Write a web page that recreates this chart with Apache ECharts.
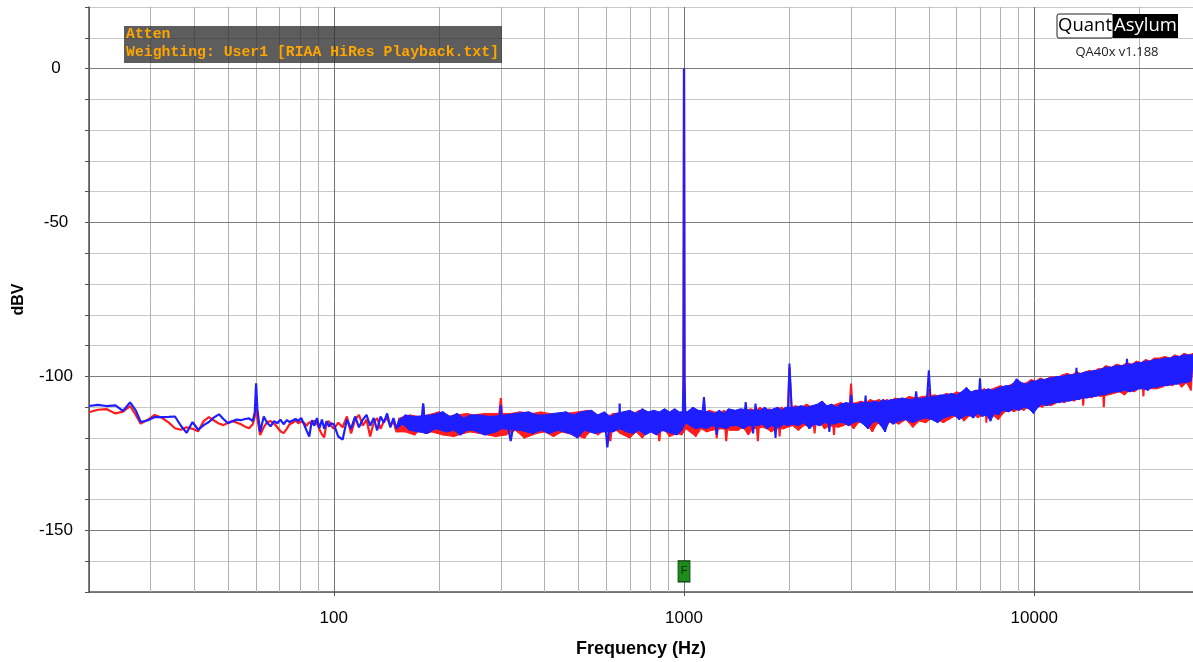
<!DOCTYPE html>
<html><head><meta charset="utf-8">
<script src="https://cdn.jsdelivr.net/npm/echarts/dist/echarts.min.js"></script>
<style>html,body{margin:0;padding:0;background:#fff}#c{width:1193px;height:662px}</style>
</head><body><div id="c"></div>
<script>
// ---------- data ----------
const lowFreq = [20.0,21.2,22.4,23.8,25.0,26.2,27.2,28.1,29.5,30.8,32.3,33.8,35.2,36.6,38.0,39.5,41.0,42.5,44.0,45.5,47.0,48.4,49.9,51.4,52.9,54.3,55.8,57.3,58.7,59.5,60.0,60.5,61.6,63.1,64.5,66.0,67.5,69.0,70.4,71.9,73.4,74.8,76.3,77.8,79.2,80.7,82.2,83.6,85.1,86.6,88.0,89.5,91.0,92.5,93.9,95.4,96.9,98.3];
const lowBlue = [-109.6,-109.2,-109.6,-109.4,-111.2,-108.4,-111.0,-114.8,-114.2,-113.2,
 -113.2,-113.1,-113.0,-116.0,-118.3,-114.8,-117.3,-115.8,-114.8,-113.3,
 -112.3,-113.8,-115.2,-114.5,-114.0,-114.2,-113.8,-113.6,-114.5,-111.5,
 -102.2,-110.5,-118.0,-113.0,-115.0,-116.2,-114.5,-115.2,-114.0,-115.5,
 -114.2,-114.8,-114.3,-113.8,-114.5,-113.5,-115.5,-117.5,-119.5,-114.2,
 -116.0,-113.5,-116.8,-114.0,-117.0,-114.5,-116.3,-115.2];
const lowRed = [-111.6,-110.8,-110.6,-112.0,-111.4,-109.6,-112.5,-115.3,-114.0,-112.5,
 -113.4,-115.0,-116.8,-117.3,-116.5,-117.0,-117.8,-114.5,-113.2,-114.3,
 -115.3,-115.8,-115.0,-114.5,-115.0,-115.5,-116.3,-116.8,-115.5,-113.0,
 -108.9,-113.5,-119.0,-116.5,-114.8,-114.5,-115.3,-116.5,-117.8,-118.4,
 -117.0,-115.5,-115.0,-114.3,-115.2,-114.6,-115.0,-116.0,-114.8,-115.5,
 -114.3,-115.3,-117.2,-118.8,-119.8,-115.0,-114.5,-116.0];

const midFreq = [100,103,106,109,112,115,118,121,124,127,130,133,136,139,142,145,148,151,154,157,
 160,165,170,175,178,180,182,185,190,195,200,205,210,215,220,225,230,235,240,245,
 250,260,270,280,290,297,300,303,310,320,330,340,350,360,370,380,390,
 400,412,424,436,448,460,472,484,496,508,520,532,544,556,568,580,592,604,616,628,
 640,653,655,657,670,685,700,715,730,745,760,775,790,805,820,835,850,865,880,895,910,925,940,955,970,985,993,997,1000,1003,1007,1012];
const midBlue = [-115.5,-119.5,-120.5,-114,-117,-113,-116.5,-114,-112.5,-116,-113.5,-117.5,-113,-115,-112,-116.5,-113.5,-117,-114,-115.5,
 -112.5,-117.5,-113,-118,-115,-108.7,-116,-118.5,-112.5,-117,-113.5,-111.5,-118,-113,-117.5,-112,-119,-113.5,-117.5,-112.5,
 -117.5,-112.5,-119,-113,-118,-113.5,-109.4,-117,-112.5,-121,-112,-117.5,-113.5,-111.5,-118.5,-112.5,-117.5,
 -112.5,-118.5,-112,-117.5,-113,-111.5,-118.5,-112.5,-120,-111.5,-117.5,-113,-111,-118.5,-112.5,-118,-111.5,-123,-113,-118,
 -112,-117,-108.8,-117,-111.5,-118,-111,-118.5,-112,-117.5,-110.5,-119,-111.5,-118,-111,-119,-111.5,-117.5,-110.5,-118,-111.5,-118.5,-110.5,-119,-111.5,-117.5,-111,-101.5,0,-101.5,-110,-115];
const midRed = [-117,-115,-116.5,-113,-118.5,-114,-112.5,-116,-114,-119.5,-115,-113.5,-117,-114.5,-113.5,-116,-114.5,-118,-113.5,-116,
 -118,-112.5,-119,-113,-117,-109.5,-118.5,-112.5,-118,-113.5,-111.5,-119,-113,-117.5,-119.5,-112.5,-117,-118.5,-112,-118,
 -112.5,-118.5,-112,-118,-119.5,-112,-107,-116.5,-119,-112,-117.5,-111.5,-120,-113.5,-112,-118.5,-111.5,
 -118,-112,-119.5,-112.5,-118,-112,-117,-119,-111.5,-117,-120,-111,-117.5,-113,-119,-112,-117.5,-113,-121,-112,
 -117.5,-112,-113,-118.5,-113,-111.5,-120,-112,-118,-111,-120,-112.5,-117.5,-111.5,-118.5,-112.5,-121,-111.5,-117.5,-112,-119.5,-111.5,-117,-118.5,-112,-119,-113,-101,0,-101,-112,-117];

const denseFreq = [1020,1040,1060,1080,1100,1120,1140,1160,1180,1200,1220,1240,1260,1280,1300,1320,1340,1360,
 1400,1425,1450,1475,1500,1525,1550,1575,1600,1625,1650,1675,1700,1725,1750,1775,1800,1825,1850,1875,1900,1925,1950,1975,
 2000,2040,2080,2120,2160,2200,2240,2280,2320,2360,2400,2440,2480,2520,2560,2600,2640,2680,2720,2760,
 2800,2850,2900,2950,3000,3050,3100,3150,3200,3250,3300,3350,3400,3450,3500,3550,3600,3650,3700,3750,3800,3850,3900,3950,
 4000,4100,4200,4300,4400,4500,4600,4700,4800,4900,5000,5100,5200,5300,5400,5500,
 5600,5700,5800,5900,6000,6100,6200,6300,6400,6500,6600,6700,6800,6900,7000,7100,7200,7300,7400,7500,7600,7700,7800,7900,
 8000,8150,8300,8450,8600,8750,8900,9050,9200,9350,9500,9650,9800,9950,10100,10250,10400,10550,10700,10850,11000,11150,
 11200,11400,11600,11800,12000,12200,12400,12600,12800,13000,13200,13400,13600,13800,14000,14200,14400,14600,14800,15000,15200,15400,15600,15800,
 16000,16300,16600,16900,17200,17500,17800,18100,18400,18700,19000,19300,19600,19900,20200,20500,20800,21100,21400,21700,22000,
 22400,22800,23200,23600,24000,24400,24800,25200,25600,26000,26400,26800,27200,27600,28000,28400];
const denseBlue = [-111.5,-116,-110,-117,-111,-116.5,-106.7,-117,-111.5,-116,-112,-119,-111,-116.5,-112,-117,-110.5,-116,
 -111,-116,-110.5,-117,-108.3,-116,-111,-118.5,-108.8,-116,-111,-115.5,-110,-117,-111,-116,-110.5,-120,-110,-116.5,-111,-115.5,-110,-116,
 -95.8,-115.5,-110,-116,-109.5,-115,-110,-117,-109.5,-115.5,-109,-116,-108,-115,-109.5,-118,-109,-115.5,-110,-115,
 -109,-115,-108.5,-116,-106,-115,-109,-114.5,-108.5,-115.5,-106.2,-117,-108.5,-115,-108,-114.5,-108.5,-116,-107.5,-118,-108,-114.5,-107.5,-115.5,
 -107.5,-114.5,-107,-114,-107.5,-115,-104.8,-114,-107,-113.5,-98,-114,-106.5,-115,-106,-113.5,
 -106,-113,-105.5,-112.5,-106,-114,-105,-113,-103.6,-112.5,-105,-113.5,-104.5,-112,-100.6,-113,-104.5,-112.5,-104,-114.5,-104.5,-112,-104,-112.5,
 -103.5,-111,-103,-111.5,-103,-110.5,-100.8,-111,-102,-110,-102.5,-110.5,-101.5,-112,-101.5,-110,-101,-109,-101,-109.5,-100.5,-109,
 -100.5,-108.5,-100,-108.5,-100,-108,-99.5,-108,-99.5,-107.5,-97.2,-107.5,-99,-107,-98.5,-107,-98.5,-106.5,-98,-106.5,-98,-106,-97.5,-106,
 -97,-105.5,-97,-105,-96.5,-105,-96.5,-104.5,-94.3,-105,-96,-104.5,-95.5,-104,-95.5,-104,-95,-104.5,-95,-103.5,-94.5,
 -103.5,-94.5,-103,-94,-103,-94,-102.5,-93.5,-102.5,-93.5,-102,-93,-102,-93,-101.5,-93];
const denseRed = [-112,-118,-111.5,-119.5,-112,-117,-112,-118,-111,-117.5,-111.5,-120,-112,-117,-111,-121,-112,-117.5,
 -111.5,-117.5,-111,-116.5,-111,-119,-110.5,-117,-111,-121,-110,-116.5,-111.5,-117,-110.5,-118,-111,-117,-110.5,-119.5,-110,-117,-111,-116.5,
 -97,-116,-109.5,-117.5,-110,-116,-109,-115.5,-110,-118.5,-109.5,-115,-109,-117,-110,-116,-109.5,-119,-109,-116.5,
 -108.5,-116,-109,-115,-102.3,-117,-108.5,-115,-108,-114.5,-108.5,-116,-107.5,-118,-108,-115.5,-107.5,-115,-108,-117,-107.5,-115,-108,-114.5,
 -107,-115.5,-107.5,-114,-106.5,-116.5,-107,-114.5,-106.5,-115,-104,-113.5,-106,-114,-106.5,-115,
 -105.5,-114,-106,-113,-105,-112.5,-105.5,-114.5,-104.5,-113,-105.5,-112,-104.5,-113.5,-104.5,-112.5,-104,-115,-104.5,-112,-104,-113,-103.5,-114,
 -103,-112,-103.5,-110.5,-102.5,-111.5,-102,-110.5,-102.5,-111,-102,-109.5,-101,-110.5,-101.5,-109.5,-100.5,-110,-101,-109,-100.5,-109.5,
 -100,-109,-100.5,-108,-99.5,-108.5,-99,-107.5,-99.5,-108,-98.5,-107,-99,-109.5,-98.5,-106.5,-98,-107,-98.5,-106,-97.5,-106.5,-97.5,-110,
 -96.5,-106,-97,-105.5,-96,-105,-96.5,-106,-95.5,-104.5,-96,-105,-95,-104,-95.5,-106.5,-94.5,-104,-95,-104,-94,
 -104,-94,-103.5,-93.5,-102.5,-94,-103,-93,-102,-93.5,-103.5,-92.5,-102,-93,-104.5,-92.5];

const xTickLabels = [100, 1000, 10000];
const minorFreqTicks = [30,40,50,60,70,80,90,200,300,400,500,600,700,800,900,2000,3000,4000,5000,6000,7000,8000,9000,20000];
const majorDbTicks = [-150,-100,-50,0];
const markerFreq = 1000, markerDb = -163.3;
const bandStartFreq = 150;   // from here on the trace is drawn as a dense noise band

// ---------- build ----------
function pts(f, v) { const n = Math.min(f.length, v.length); const o = []; for (let i = 0; i < n; i++) o.push([f[i], v[i]]); return o; }
const lmF = lowFreq.concat(midFreq);
const redLM = pts(lmF, lowRed.concat(midRed));
const blueLM = pts(lmF, lowBlue.concat(midBlue));
const lastF = midFreq[midFreq.length - 1];
const redD = pts([lastF].concat(denseFreq), [midRed[midRed.length - 1]].concat(denseRed));
const blueD = pts([lastF].concat(denseFreq), [midBlue[midBlue.length - 1]].concat(denseBlue));

// envelope polygon of the noise: local maxima (top) and local minima (bottom), isolated spikes/dips left out
function envelope(p) {
  let top = [], bot = [];
  for (let i = 0; i < p.length; i++) {
    const prev = i > 0 ? p[i - 1][1] : null, next = i < p.length - 1 ? p[i + 1][1] : null;
    const v = p[i][1];
    if ((prev === null || v >= prev) && (next === null || v >= next)) top.push(p[i]);
    if ((prev === null || v <= prev) && (next === null || v <= next)) bot.push(p[i]);
  }
  top = top.filter((q, j) => !(j > 0 && j < top.length - 1 && q[1] > Math.max(top[j - 1][1], top[j + 1][1]) + 1.5));
  bot = bot.filter((q, j) => !(j > 0 && j < bot.length - 1 && q[1] < Math.min(bot[j - 1][1], bot[j + 1][1]) - 2));
  return top.concat(bot.reverse());
}
const redBand = envelope(redLM.filter(p => p[0] >= bandStartFreq).concat(redD.slice(1)));
const blueBand = envelope(blueLM.filter(p => p[0] >= bandStartFreq).concat(blueD.slice(1)));

const RED = '#ff1c1c', BLUE = '#1e1eff';
const FONT = '"Liberation Sans", Arial, sans-serif';
function lineSeries(data, color, w, z) {
  return { type: 'line', data: data, showSymbol: false, symbol: 'none', silent: true, animation: false,
    lineStyle: { color: color, width: w }, z: z, clip: true };
}
function bandSeries(poly, color, z) {
  return { type: 'custom', silent: true, animation: false, z: z, clip: true, data: [[1000, -110]],
    renderItem: (params, api) => ({ type: 'polygon', shape: { points: poly.map(p => api.coord(p)) },
      style: { fill: color, stroke: color, lineWidth: 1 } }) };
}

const gridMarks = minorFreqTicks.map(f => ({ xAxis: f, lineStyle: { color: '#b2b2b2', type: 'solid', width: 1 } }))
  .concat(majorDbTicks.map(v => ({ yAxis: v, lineStyle: { color: '#7c7c7c', type: 'solid', width: 1.2 } })));
const tickMarks = minorFreqTicks.map(f => [{ xAxis: f, yAxis: -170 }, { xAxis: f, yAxis: -171.3 }]);

const chart = echarts.init(document.getElementById('c'), null, { renderer: 'canvas' });
chart.setOption({
  animation: false,
  backgroundColor: '#ffffff',
  grid: { left: 89, right: 0, top: 7, bottom: 70, containLabel: false, outerBoundsMode: 'none' },
  xAxis: {
    type: 'log', logBase: 10, min: 20, max: 28400,
    axisLine: { show: true, onZero: false, lineStyle: { color: '#555', width: 1.5 } },
    axisTick: { show: true, length: 4, lineStyle: { color: '#555' } },
    axisLabel: { color: '#000', fontSize: 17, fontFamily: FONT, margin: 18, showMinLabel: false, showMaxLabel: false,
      formatter: v => { const r = Math.round(v); return xTickLabels.indexOf(r) >= 0 ? String(r) : ''; } },
    splitLine: { show: true, lineStyle: { color: '#737373', width: 1 } },
    name: 'Frequency (Hz)', nameLocation: 'middle', nameGap: 48,
    nameTextStyle: { color: '#000', fontSize: 18, fontWeight: 'bold', fontFamily: FONT }
  },
  yAxis: {
    type: 'value', min: -170, max: 20, interval: 10,
    axisLine: { show: true, onZero: false, lineStyle: { color: '#555', width: 1.5 } },
    axisTick: { show: true, length: 4, lineStyle: { color: '#555' } },
    axisLabel: { color: '#000', fontSize: 17, fontFamily: FONT, align: 'center', margin: 33,
      formatter: v => (v % 50 === 0 ? String(v) : '') },
    splitLine: { show: true, lineStyle: { color: '#c8c8c8', width: 1 } },
    name: 'dBV', nameLocation: 'middle', nameGap: 62, nameRotate: 90,
    nameTextStyle: { color: '#000', fontSize: 16, fontWeight: 'bold', fontFamily: FONT }
  },
  series: [
    { type: 'line', data: [[20, -170]], symbol: 'none', showSymbol: false, silent: true, lineStyle: { width: 0 }, z: 1, clip: false,
      markLine: { silent: true, symbol: ['none', 'none'], z: 1, animation: false, label: { show: false },
        emphasis: { disabled: true }, lineStyle: { type: 'solid', width: 1 }, data: gridMarks },
      markPoint: { silent: true, z: 9, animation: false, symbol: 'rect', symbolSize: [12, 21],
        itemStyle: { color: '#1d8c1d', borderColor: '#0a3a0a', borderWidth: 1 },
        label: { show: true, position: 'inside', formatter: 'F', color: '#0a300a', fontSize: 11, fontFamily: FONT },
        data: [{ coord: [markerFreq, markerDb] }] } },
    { type: 'line', data: [[20, -170]], symbol: 'none', showSymbol: false, silent: true, lineStyle: { width: 0 }, z: 1, clip: false,
      markLine: { silent: true, symbol: ['none', 'none'], z: 1, animation: false, label: { show: false },
        emphasis: { disabled: true }, lineStyle: { type: 'solid', width: 1, color: '#555' }, data: tickMarks } },
    bandSeries(redBand, RED, 2),
    lineSeries(redLM, RED, 2.2, 2),
    lineSeries(redD, RED, 2, 2),
    bandSeries(blueBand, BLUE, 3),
    lineSeries(blueLM, BLUE, 2.2, 3),
    lineSeries(blueD, BLUE, 2, 3)
  ],
  graphic: [
    { type: 'rect', shape: { x: 124, y: 26, width: 378, height: 37 }, style: { fill: 'rgba(48,48,48,0.78)' }, z: 100, silent: true },
    { type: 'text', x: 126, y: 34, style: { text: 'Atten', fill: '#ffa500', font: 'bold 14.8px "Liberation Mono", monospace', verticalAlign: 'middle' }, z: 101, silent: true },
    { type: 'text', x: 126, y: 52, style: { text: 'Weighting: User1 [RIAA HiRes Playback.txt]', fill: '#ffa500', font: 'bold 14.8px "Liberation Mono", monospace', verticalAlign: 'middle' }, z: 101, silent: true },
    { type: 'rect', shape: { x: 1057, y: 14, width: 56, height: 24, r: 2 }, style: { fill: '#fff', stroke: '#222', lineWidth: 1 }, z: 100, silent: true },
    { type: 'rect', shape: { x: 1113, y: 14, width: 65, height: 24 }, style: { fill: '#000' }, z: 100, silent: true },
    { type: 'text', x: 1085, y: 26, style: { text: 'Quant', fill: '#000', font: '18.5px "Open Sans", sans-serif', align: 'center', verticalAlign: 'middle' }, z: 101, silent: true },
    { type: 'text', x: 1145.5, y: 26, style: { text: 'Asylum', fill: '#fff', font: '18.5px "Open Sans", sans-serif', align: 'center', verticalAlign: 'middle' }, z: 101, silent: true },
    { type: 'text', x: 1117, y: 52, style: { text: 'QA40x v1.188', fill: '#222', font: '13px "Open Sans", sans-serif', align: 'center', verticalAlign: 'middle' }, z: 101, silent: true }
  ]
});
</script></body></html>
